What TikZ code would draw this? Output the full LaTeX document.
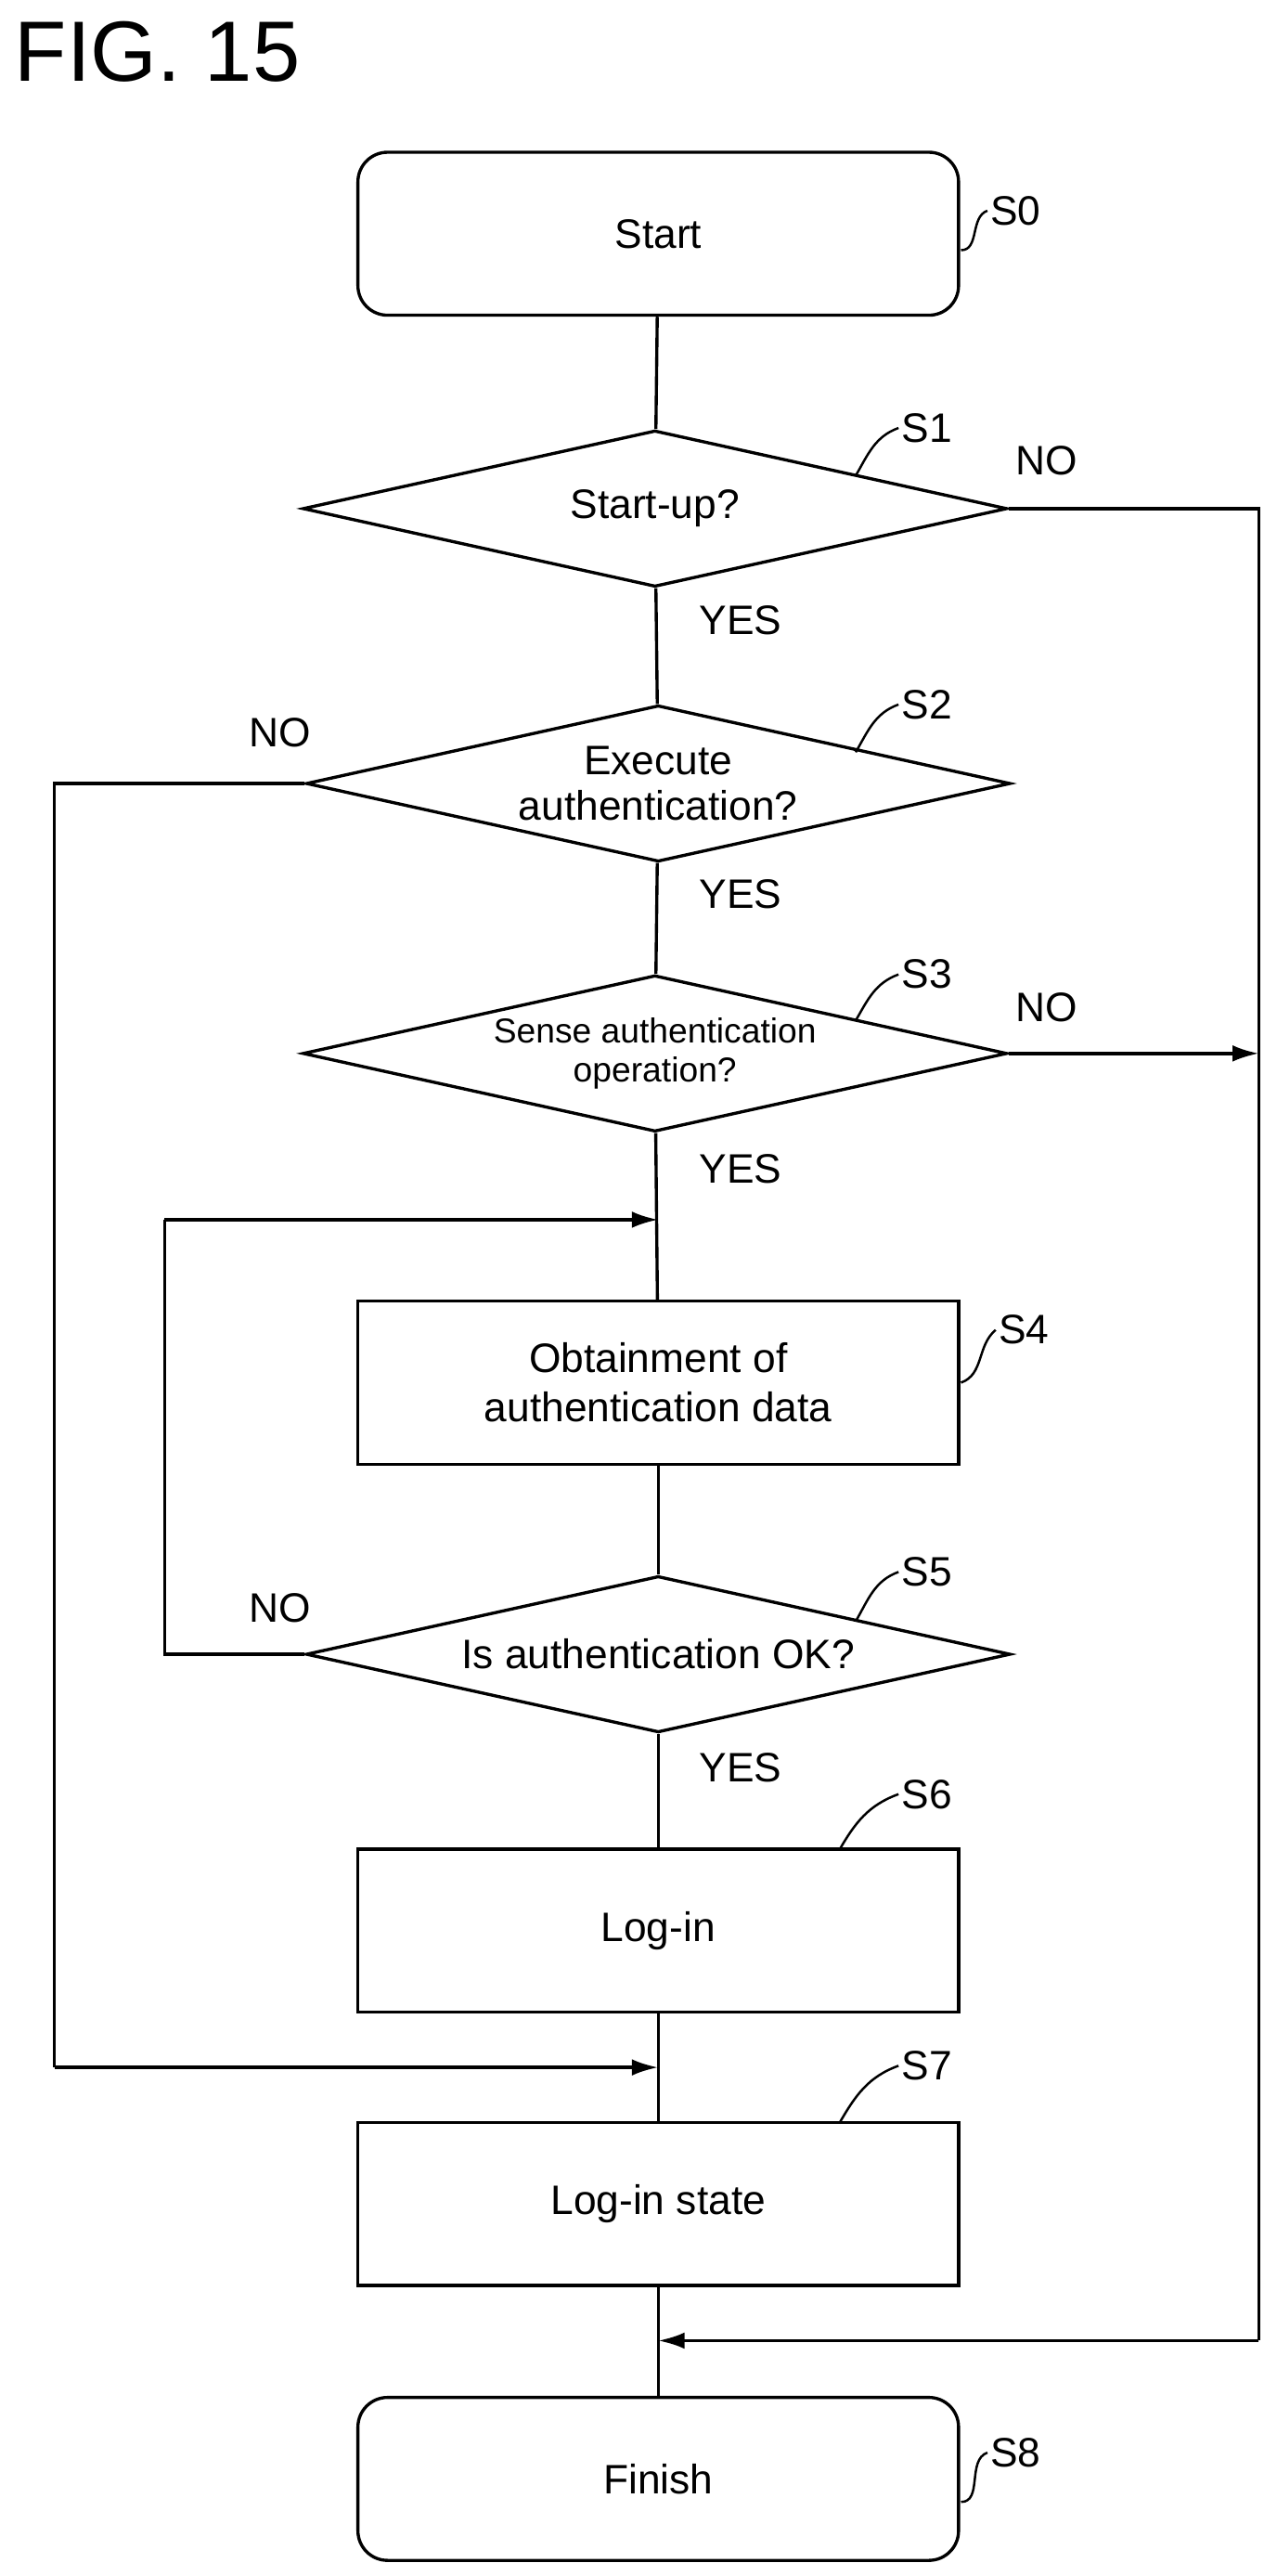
\documentclass[tikz,border=0pt]{standalone}
\usepackage{fontspec}
\setmainfont{Liberation Sans}
\usetikzlibrary{shapes.geometric,arrows.meta}
\begin{document}
\begin{tikzpicture}[x=1pt,y=-1pt,line width=1.9pt,
  txt/.style={font=\fontsize{25}{30}\selectfont},
  box/.style={draw,minimum width=365pt,minimum height=99pt,inner sep=0pt,txt,align=center},
  rbox/.style={box,rounded corners=18pt},
  dia/.style={draw,diamond,minimum width=428pt,minimum height=95pt,inner sep=0pt,
    label={[txt,align=center]center:#1}},
  lab/.style={txt,anchor=west,inner sep=1pt},
  arr/.style={-{Latex[length=16pt,width=10pt]}}]
\useasboundingbox (0,0) rectangle (776,1565);
\node[anchor=north west,font=\fontsize{52}{60}\selectfont,inner sep=0pt] (title) at (8,12) {FIG. 15};
\node[rbox] (s0) at (400,142) {Start};
\node[dia={Start-up?}] (s1) at (398,309) {};
\node[dia={Execute\\[-2pt]authentication?}] (s2) at (400,476) {};
\node[dia={\fontsize{21}{24}\selectfont Sense authentication\\[-6pt]\fontsize{21}{24}\selectfont operation?}] (s3) at (398,640) {};
\node[box] (s4) at (400,840) {Obtainment of\\authentication data};
\node[dia={Is authentication OK?}] (s5) at (400,1005) {};
\node[box] (s6) at (400,1173) {Log-in};
\node[box] (s7) at (400,1339) {Log-in state};
\node[rbox] (s8) at (400,1506) {Finish};
% step labels
\node[lab] (l0) at (600,128) {S0};
\node[lab] (l1) at (546,260) {S1};
\node[lab] (l2) at (546,428) {S2};
\node[lab] (l3) at (546,592) {S3};
\node[lab] (l4) at (605,808) {S4};
\node[lab] (l5) at (546,955) {S5};
\node[lab] (l6) at (546,1090) {S6};
\node[lab] (l7) at (546,1255) {S7};
\node[lab] (l8) at (600,1490) {S8};
\begin{scope}[line width=1.4pt]
\draw (584,152) to[out=0,in=200] (l0.west);
\draw (520,289) to[out=60,in=200] (l1.west);
\draw (520,457) to[out=60,in=200] (l2.west);
\draw (520,620) to[out=60,in=200] (l3.west);
\draw (584,840) to[out=20,in=220] (l4.west);
\draw (520,985) to[out=60,in=200] (l5.west);
\draw (510,1124) to[out=60,in=200] (l6.west);
\draw (510,1290) to[out=60,in=200] (l7.west);
\draw (584,1520) to[out=0,in=200] (l8.west);
\end{scope}
% YES / NO
\node[txt] (y1) at (450,377) {YES};
\node[txt] (y2) at (450,543) {YES};
\node[txt] (y3) at (450,710) {YES};
\node[txt] (y5) at (450,1074) {YES};
\node[txt] (n1) at (636,280) {NO};
\node[txt] (n2) at (170,445) {NO};
\node[txt] (n3) at (636,612) {NO};
\node[txt] (n5) at (170,977) {NO};
% main flow
\draw (s0) -- (s1);
\draw (s1) -- (s2);
\draw (s2) -- (s3);
\coordinate (j4) at (400,741);
\draw (s3) -- (s4);
\draw (s4) -- (s5);
\draw (s5) -- (s6);
\draw (s6) -- (s7);
\draw (s7) -- (s8);
% right NO bus
\coordinate (r1) at (765,309);
\coordinate (r3) at (765,640);
\coordinate (r8) at (765,1422);
\coordinate (j8) at (400,1422);
\draw (s1.east) -- (r1) -- (r8);
\draw[arr] (r8) -- (j8);
\draw[arr] (s3.east) -- (r3);
% left NO from S2
\coordinate (a2) at (33,476);
\coordinate (b2) at (33,1256);
\coordinate (j7) at (400,1256);
\draw (s2.west) -- (a2) -- (b2);
\draw[arr] (b2) -- (j7);
% loop from S5
\coordinate (a5) at (100,1005);
\coordinate (b5) at (100,741);
\draw (s5.west) -- (a5) -- (b5);
\draw[arr] (b5) -- (j4);
\end{tikzpicture}
\end{document}
